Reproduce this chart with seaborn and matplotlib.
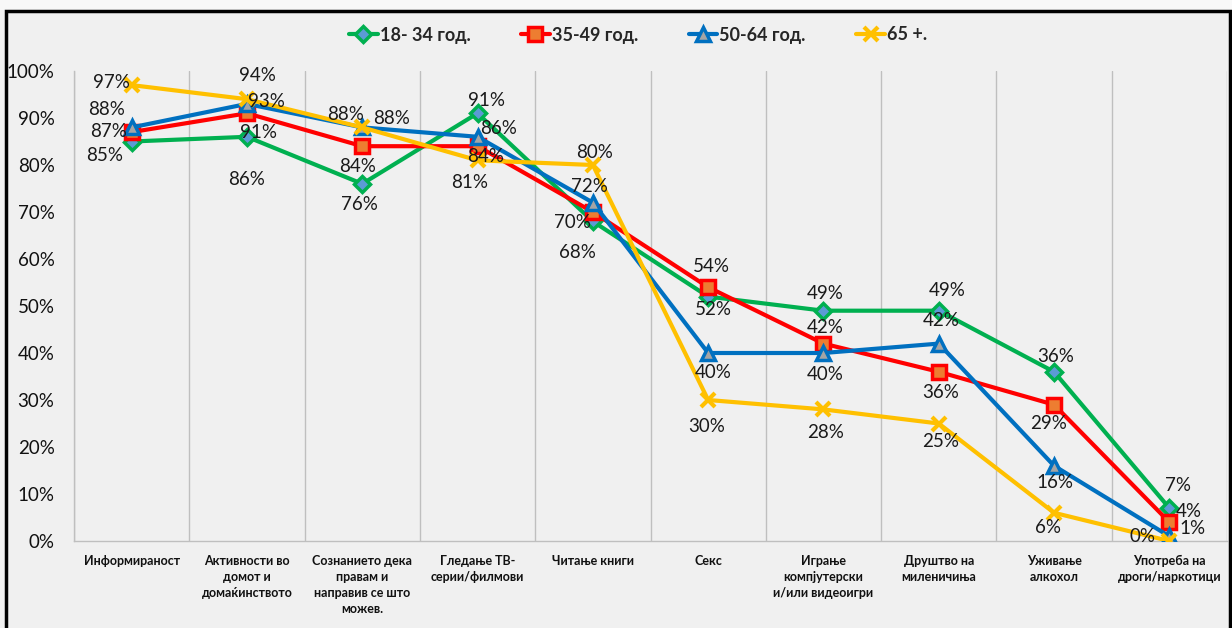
import numpy as np
import pandas as pd
import matplotlib
matplotlib.use("Agg")
import matplotlib.pyplot as plt
import seaborn as sns
from matplotlib.patches import Rectangle
from matplotlib.lines import Line2D
from matplotlib.ticker import FuncFormatter

# ---------------- data ----------------
categories = [
    "Информираност",
    "Активности во\nдомот и\nдомаќинството",
    "Сознанието дека\nправам и\nнаправив се што\nможев.",
    "Гледање ТВ-\nсерии/филмови",
    "Читање книги",
    "Секс",
    "Играње\nкомпјутерски\nи/или видеоигри",
    "Друштво на\nмиленичиња",
    "Уживање\nалкохол",
    "Употреба на\nдроги/наркотици",
]
series_names = ["18- 34 год.", "35-49 год.", "50-64 год.", "65 +."]
vals_18_34 = [85, 86, 76, 91, 68, 52, 49, 49, 36, 7]
vals_35_49 = [87, 91, 84, 84, 70, 54, 42, 36, 29, 4]
vals_50_64 = [88, 93, 88, 86, 72, 40, 40, 42, 16, 1]
vals_65 = [97, 94, 88, 81, 80, 30, 28, 25, 6, 0]
y_ticks = [0, 10, 20, 30, 40, 50, 60, 70, 80, 90, 100]

all_vals = [vals_18_34, vals_35_49, vals_50_64, vals_65]

# ---------------- styles ----------------
colors = ["#00B050", "#FF0000", "#0070C0", "#FFC000"]
face_colors = ["#5B9BD5", "#ED7D31", "#A5A5A5", "#FFC000"]
markers = ["D", "s", "^", "x"]
msizes = [8, 10, 10, 10]
medge = [2.5, 2.5, 2.5, 3]

# label offsets in pixels (dx, dy) for each series/category
label_offsets = [
    [(-27, -14), (0, -43), (-3, -21), (9, 13), (-15, -31), (5, -13), (2, 17), (8, 20), (2, 15), (9, 23)],
    [(-23, 1), (12, -19), (-5, -20), (8, -10), (-20, -11), (3, 21), (2, 16), (2, -21), (-6, -19), (19, 11)],
    [(-25, 18), (19, 2), (29, 9), (21, 8), (-3, 16), (5, -19), (2, -22), (2, 23), (1, -17), (23, 8)],
    [(-20, 3), (10, 24), (-17, 13), (-8, -22), (2, 13), (-1, -26), (2, -23), (2, -18), (-6, -15), (-27, 4)],
]

sns.set_theme(style="white")
plt.rcParams["font.family"] = ["Lato", "Noto Sans", "DejaVu Sans"]

rows = []
for name, vals in zip(series_names, all_vals):
    for i, v in enumerate(vals):
        rows.append({"pos": i, "value": v, "series": name})
df = pd.DataFrame(rows)

W, H = 1232, 628
fig = plt.figure(figsize=(W / 100, H / 100), dpi=100, facecolor="#F0F0F0")
ax = fig.add_axes([74 / W, 1 - 541 / H, (1227 - 74) / W, 470 / H])
ax.set_facecolor("#F0F0F0")

handles = []
for k, name in enumerate(series_names):
    sub = df[df["series"] == name]
    sns.lineplot(
        data=sub, x="pos", y="value", ax=ax, color=colors[k], linewidth=3,
        marker=markers[k], markersize=msizes[k], markerfacecolor=face_colors[k],
        markeredgecolor=colors[k], markeredgewidth=medge[k], legend=False, zorder=3 + k * 0.1,
    )
    handles.append(Line2D([0], [0], color=colors[k], lw=3, marker=markers[k],
                          markersize=msizes[k], markerfacecolor=face_colors[k],
                          markeredgecolor=colors[k], markeredgewidth=medge[k]))

for k, vals in enumerate(all_vals):
    for i, v in enumerate(vals):
        dx, dy = label_offsets[k][i]
        ax.annotate(f"{v}%", (i, v), xytext=(dx, dy), textcoords="offset pixels",
                    ha="center", va="center", fontsize=13.5, color="#1a1a1a", zorder=6)

ax.set_xlim(-0.5, 9.5)
ax.set_ylim(0, 100)
ax.set_xticks(range(len(categories)))
ax.set_xticklabels(categories, fontweight="bold", fontsize=9, linespacing=1.4, va="top", color="#111111")
ax.set_xticks(np.arange(-0.5, 10, 1), minor=True)
ax.set_yticks(y_ticks)
ax.yaxis.set_major_formatter(FuncFormatter(lambda v, p: f"{int(v)}%"))
ax.tick_params(axis="y", length=0, pad=14, labelsize=13.5, labelcolor="#111111")
ax.tick_params(axis="x", which="both", length=0, pad=10)
ax.set_xlabel("")
ax.set_ylabel("")
ax.grid(False)
ax.grid(which="minor", axis="x", color="#BFBFBF", lw=1)
for s in ["top", "right"]:
    ax.spines[s].set_visible(False)
for s in ["left", "bottom"]:
    ax.spines[s].set_color("#BFBFBF")
    ax.spines[s].set_linewidth(1)

leg = fig.legend(handles, series_names, loc="center", bbox_to_anchor=(638 / W, 1 - 35 / H),
                 ncol=4, frameon=False, prop={"weight": "bold", "size": 13},
                 handlelength=1.6, handletextpad=0.1, columnspacing=2.8)

# top strip and border
fig.patches.append(Rectangle((0, 1 - 10 / H), 1, 10 / H, transform=fig.transFigure,
                             facecolor="#F8F8F8", edgecolor="none", zorder=-1))
fig.patches.append(Rectangle((6 / W, -0.02), (1230 - 6) / W, 1 - 11 / H + 0.02,
                             transform=fig.transFigure, fill=False, edgecolor="black", lw=2.5))

fig.savefig("out.png", dpi=100, facecolor=fig.get_facecolor())
